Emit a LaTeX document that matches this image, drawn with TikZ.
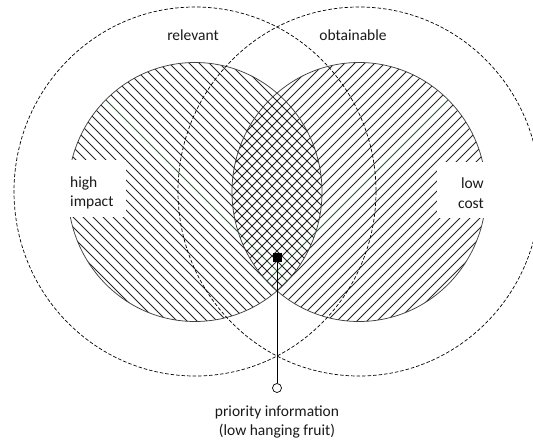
\documentclass[tikz,border=0pt]{standalone}
\usepackage{fontspec}
\setmainfont{Carlito}
\begin{document}
\begin{tikzpicture}[x=1pt,y=-1pt,
  hatch/.style={line width=0.75pt, draw=black!85},
  ring/.style={draw=black!75, line width=0.75pt},
  outer/.style={draw=black, line width=0.7pt, dash pattern=on 3.5pt off 2pt},
  lbl/.style={font=\fontsize{15.5}{19.5}\selectfont, text=black!90, inner sep=0pt},
  greenline/.style={line width=0.8pt, draw={rgb,255:red,40;green,85;blue,50}},
  marker/.style={fill=black, draw=none, minimum size=9pt, inner sep=0pt},
  endpt/.style={circle, draw=black, fill=white, line width=0.7pt, minimum size=9pt, inner sep=0pt},
]
\useasboundingbox (0,0) rectangle (533,441);
\clip (0,0) rectangle (533,441);
% left circle hatching (\\\)
\begin{scope}
  \clip (195,192) ellipse [x radius=127, y radius=129.5];
  \foreach \k in {-27,...,-1,1,2,...,27} \draw[hatch] (0,{10*\k-6}) -- (500,{494+10*\k});
  \draw[greenline] (0,-6) -- (500,494);
\end{scope}
% right circle hatching (///)
\begin{scope}
  \clip (359,192) ellipse [x radius=127, y radius=129.5];
  \foreach \k in {-27,...,-1,1,2,...,27} \draw[hatch] (0,{548+10*\k}) -- (560,{-12+10*\k});
  \draw[greenline] (0,548) -- (560,-12);
\end{scope}
% circle outlines
\draw[ring] (195,192) ellipse [x radius=127, y radius=129.5];
\draw[ring] (359,192) ellipse [x radius=127, y radius=129.5];
% white label panels
\fill[white] (65,160) rectangle (126,217);
\fill[white] (437,162) rectangle (490,218);
% outer dashed ellipses
\draw[outer] (195,191.5) ellipse [x radius=181, y radius=184.5];
\draw[outer] (359,191.5) ellipse [x radius=181, y radius=184.5];
% labels
\node[lbl, align=left, anchor=west] (hi) at (70,193) {high\\impact};
\node[lbl, align=right, anchor=east] (lc) at (484,193) {low\\cost};
\node[lbl, anchor=base] (rel) at (193,41) {relevant};
\node[lbl, anchor=base] (obt) at (353,41) {obtainable};
\node[lbl, align=center] (prio) at (277,422) {priority information\\(low hanging fruit)};
% pointer
\node[marker] (sq) at (277,257) {};
\node[endpt] (tip) at (277,388) {};
\draw[line width=0.9pt] (sq) -- (tip);
\end{tikzpicture}
\end{document}
